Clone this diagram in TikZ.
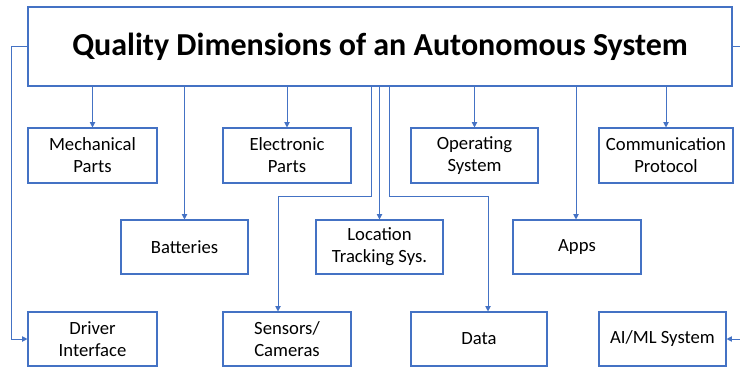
\documentclass[tikz,border=0pt]{standalone}
\usepackage{fontspec}
\setmainfont{Carlito}
\usetikzlibrary{arrows.meta,calc}
\definecolor{officeblue}{HTML}{4472C4}
\tikzset{
  box/.style={draw=officeblue, line width=0.8pt, fill=white, inner sep=0pt,
    align=center, font=\fontsize{14}{16.5}\selectfont},
  conn/.style={draw=officeblue, line width=0.75pt,
    -{Triangle[length=4pt,width=4pt]}},
}
\begin{document}
\begin{tikzpicture}[x=0.75pt,y=-0.75pt]
\useasboundingbox (0,0) rectangle (740,371);

% headline box
\node[box, minimum width=528pt, minimum height=59.25pt,
  font=\fontsize{24}{28}\selectfont\bfseries] (top) at (380,46.5)
  {Quality Dimensions of an Autonomous System};

% first row
\node[box, minimum width=96.75pt, minimum height=41.25pt] (mech) at (92.5,155.5) {Mechanical\\Parts};
\node[box, minimum width=96pt, minimum height=41.25pt] (elec) at (287,155.5) {Electronic\\Parts};
\node[box, minimum width=95.25pt, minimum height=41.25pt] (oper) at (474.5,155.5) {Operating\\System};
\node[box, minimum width=100.5pt, minimum height=41.25pt] (comm) at (666,155.5) {Communication\\Protocol};

% second row
\node[box, minimum width=95.25pt, minimum height=40.5pt] (batt) at (184.5,247) {Batteries};
\node[box, minimum width=95.25pt, minimum height=40.5pt] (loc) at (379.5,247) {Location\\Tracking Sys.};
\node[box, minimum width=96pt, minimum height=40.5pt] (apps) at (577,247) {Apps};

% third row
\node[box, minimum width=96.75pt, minimum height=40.5pt] (driver) at (92.5,339) {Driver\\Interface};
\node[box, minimum width=96pt, minimum height=40.5pt] (sens) at (287,339) {Sensors/\\Cameras};
\node[box, minimum width=102pt, minimum height=40.5pt] (data) at (479,339) {Data};
\node[box, minimum width=95.25pt, minimum height=40.5pt] (aiml) at (662.5,339) {AI/ML System};

% straight drops from the headline
\draw[conn] (top.south -| mech.north) -- (mech.north);
\draw[conn] (top.south -| batt.north) -- (batt.north);
\draw[conn] (top.south -| elec.north) -- (elec.north);
\draw[conn] (top.south -| loc.north) -- (loc.north);
\draw[conn] (top.south -| oper.north) -- (oper.north);
\draw[conn] ($(top.south -| apps.north)+(-1,0)$) -- ($(apps.north)+(-1,0)$);
\draw[conn] (top.south -| comm.north) -- (comm.north);

% elbow connectors
\coordinate (sensbend) at ($(sens.north)+(-9,-115)$);
\draw[conn] ($(top.south)+(-9,0)$) |- (sensbend) -- ($(sens.north)+(-9,0)$);
\coordinate (databend) at ($(data.north)+(9,-115)$);
\draw[conn] ($(top.south)+(9,0)$) |- (databend) -- ($(data.north)+(9,0)$);

% side loops
\draw[conn] (top.west) -- ++(-16,0) |- (driver.west);
\draw[conn] (top.east) -- ++(16,0) |- (aiml.east);
\end{tikzpicture}
\end{document}
